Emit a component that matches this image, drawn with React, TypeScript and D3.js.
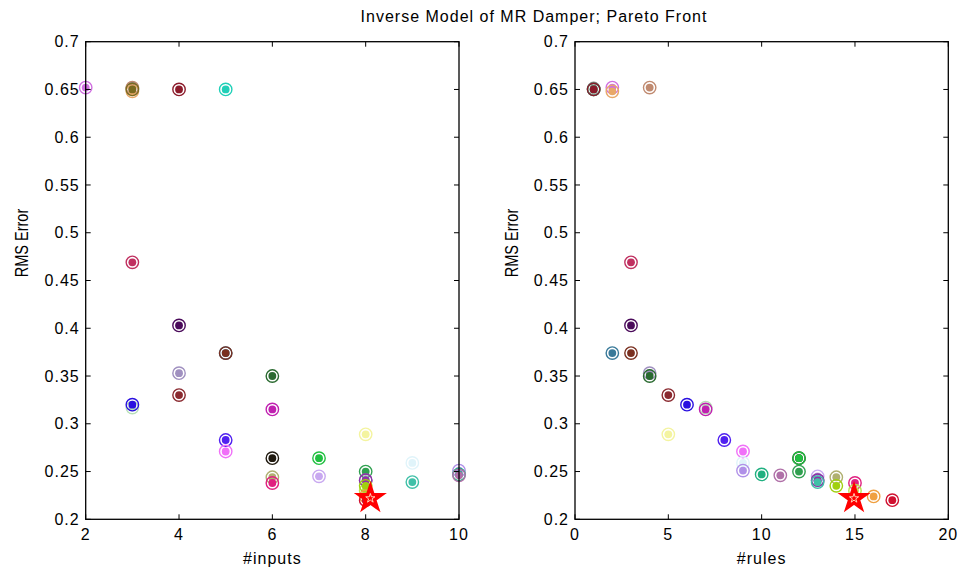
import React from "react";
import * as d3 from "d3";

const title = "Inverse Model of MR Damper; Pareto Front";
const yTicks = [0.2, 0.25, 0.3, 0.35, 0.4, 0.45, 0.5, 0.55, 0.6, 0.65, 0.7];
const xTicksInputs = [2, 4, 6, 8, 10];
const xTicksRules = [0, 5, 10, 15, 20];

// each solution: #inputs, #rules, RMS error, colour
const inputs = [2, 3, 3, 3, 3, 5, 4, 3, 4, 5, 5, 4, 6, 4, 3, 3, 6, 8, 5, 5, 6, 7, 9, 10, 8, 10, 10, 7, 6, 8, 8, 9, 6, 8, 8, 8, 8];
const rules = [2, 1, 4, 2, 1, 1, 1, 3, 3, 2, 3, 4, 4, 5, 7, 6, 7, 5, 8, 9, 12, 12, 9, 9, 12, 10, 11, 13, 14, 13, 13, 13, 15, 15, 14, 16, 17];
const rms = [0.652, 0.651, 0.652, 0.648, 0.650, 0.650, 0.650, 0.469, 0.403, 0.374, 0.374, 0.353, 0.350, 0.330, 0.317, 0.320, 0.315, 0.289, 0.283, 0.271, 0.264, 0.264, 0.259, 0.251, 0.250, 0.247, 0.246, 0.245, 0.244, 0.241, 0.241, 0.239, 0.238, 0.230, 0.235, 0.224, 0.220];
const colors = ["#d070e0", "#8a8a8a", "#c08a70", "#e8a868", "#7a6a20", "#20d0b8", "#8b1a2a", "#c03060", "#4a0a5a", "#3a7a9a", "#7a3020", "#a090c0", "#2a6a30", "#8a2a30", "#b8e0b8", "#2a10e0", "#c020b0", "#f4f4a0", "#5020f0", "#f070f8", "#201a10", "#20c040", "#e0f4fa", "#b090e8", "#30a050", "#20b080", "#b070a8", "#c8a8f0", "#b0b070", "#8090b0", "#9030a8", "#40c0a8", "#e02080", "#b8e050", "#a0d010", "#f0a040", "#d01030"];

const starInputs = 8.1;
const starRules = 14.95;
const starRms = 0.222;

const W = 962;
const H = 571;
const top = 41.7;
const bottom = 519.3;

const yScale = d3.scaleLinear().domain([0.2, 0.7]).range([bottom, top]);

const font = "'Liberation Sans', Arial, sans-serif";

function Panel({ x, xTicks, xDomain, x0, x1, xLabel, star }: any) {
  const xScale = d3.scaleLinear().domain(xDomain).range([x0, x1]);
  const starPath = d3.symbol().type(d3.symbolStar).size(225)() as string;
  const innerStar = d3.symbol().type(d3.symbolStar).size(26)() as string;
  const tl = 5;
  return (
    <g>
      {x.map((v: number, i: number) => (
        <g key={i} transform={`translate(${xScale(v)},${yScale(rms[i])})`}>
          <circle r={6.2} fill="none" stroke={colors[i]} strokeWidth={1.4} />
          <circle r={3.9} fill={colors[i]} />
        </g>
      ))}
      <g transform={`translate(${xScale(star)},${yScale(starRms)})`}>
        <path d={starPath} fill="#ff0000" stroke="#ff0000" strokeWidth={2} strokeLinejoin="miter" />
        <path d={innerStar} fill="none" stroke="#ffe6c8" strokeWidth={0.9} />
      </g>
      <rect x={x0} y={top} width={x1 - x0} height={bottom - top} fill="none" stroke="#000" strokeWidth={1.3} />
      {yTicks.map((t) => (
        <g key={t}>
          <line x1={x0} x2={x0 + tl} y1={yScale(t)} y2={yScale(t)} stroke="#000" />
          <line x1={x1} x2={x1 - tl} y1={yScale(t)} y2={yScale(t)} stroke="#000" />
          <text x={x0 - 6} y={yScale(t)} dy="0.35em" textAnchor="end" fontSize={16} letterSpacing={1} fontFamily={font}>
            {String(t)}
          </text>
        </g>
      ))}
      {xTicks.map((t: number) => (
        <g key={t}>
          <line x1={xScale(t)} x2={xScale(t)} y1={bottom} y2={bottom - tl} stroke="#000" />
          <line x1={xScale(t)} x2={xScale(t)} y1={top} y2={top + tl} stroke="#000" />
          <text x={xScale(t)} y={bottom + 21} textAnchor="middle" fontSize={16} letterSpacing={1} fontFamily={font}>
            {String(t)}
          </text>
        </g>
      ))}
      <text x={(x0 + x1) / 2} y={bottom + 45} textAnchor="middle" fontSize={16} letterSpacing={1} fontFamily={font}>
        {xLabel}
      </text>
      <text
        transform={`translate(${x0 - 64},243) scale(1.3,1) rotate(-90)`}
        textAnchor="middle"
        dy="0.35em"
        fontSize={14.5}
        fontFamily={font}
      >
        RMS Error
      </text>
    </g>
  );
}

export default function App() {
  return (
    <svg width={W} height={H} style={{ position: "absolute", left: 0, top: 0, background: "#fff" }}>
      <rect width={W} height={H} fill="#fff" />
      <text x={534} y={22} textAnchor="middle" fontSize={16} letterSpacing={1} fontFamily={font}>
        {title}
      </text>
      <Panel x={inputs} xTicks={xTicksInputs} xDomain={[2, 10]} x0={85.7} x1={459} xLabel="#inputs" star={starInputs} />
      <Panel x={rules} xTicks={xTicksRules} xDomain={[0, 20]} x0={575} x1={948.3} xLabel="#rules" star={starRules} />
    </svg>
  );
}
